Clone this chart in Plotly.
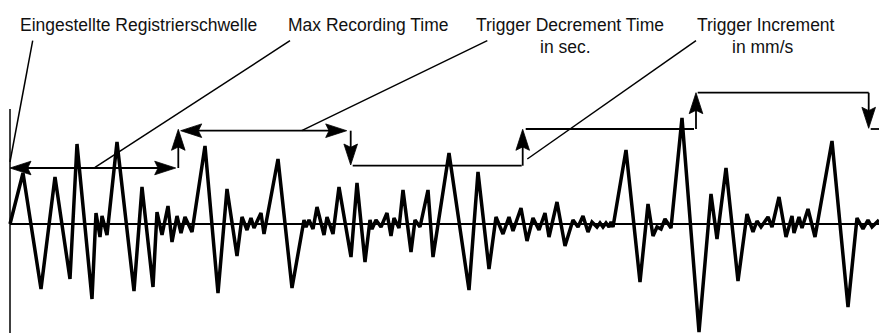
import plotly.graph_objects as go
import numpy as np

# ---------------- data ----------------
# waveform vertices (time units, amplitude units)
time = [0, 13, 31, 45, 60, 67, 82, 86, 90, 92, 97, 107, 124, 132, 143, 147, 152, 158, 162, 167,
        171, 175, 182, 195, 208, 217, 227, 232, 237, 241, 244, 251, 254, 268, 282, 294, 296, 299,
        303, 307, 314, 317, 323, 329, 341, 347, 355, 360, 362, 366, 371, 377, 381, 384, 389, 393,
        401, 405, 410, 418, 423, 439, 459, 468, 479, 486, 493, 499, 503, 511, 517, 523, 529, 535,
        539, 547, 555, 563, 568, 573, 578, 582, 587, 590, 593, 596, 599, 601, 603, 616, 630, 638,
        643, 647, 651, 655, 661, 672, 689, 701, 707, 716, 728, 737, 743, 747, 751, 758, 762, 769,
        776, 782, 784, 789, 792, 798, 805, 822, 838, 847, 853, 858, 862, 869]
amplitude = [0, 51, -65, 47, -55, 80, -75, 11, -13, 8, -11, 82, -67, 37, -63, 12, -11, 18, -18, 8,
             -9, 7, -8, 78, -69, 35, -32, 7, -6, 6, -4, 11, -10, 65, -64, 4, -3, 4,
             -5, 17, -11, 7, -10, 37, -33, 41, -38, 4, -5, 4, -3, 11, -12, 6, -4, 34,
             -28, 4, -3, 34, -33, 71, -66, 52, -45, 7, -10, 7, -7, 16, -17, 6, -6, 11,
             -13, 22, -22, 4, -3, 8, -8, 2, -3, 1, -3, 1, -3, 2, -3, 74, -58, 20,
             -12, -3, -5, 5, -4, 106, -108, 30, -15, 56, -57, 10, -8, 3, -3, 7, -3, 27,
             -13, 8, -9, 7, -4, 15, -13, 83, -83, 6, -5, 4, -3, 4]

# trigger level segments
seg_start = [0, 170.7, 342.7, 515.7, 687.7, 860.7]
seg_end = [165.7, 336.7, 511.7, 684, 858.7, 869]
seg_level = [56, 93.3, 58.3, 95, 131.3, 95]
seg_double = [True, True, False, False, False, False]
# step arrows between successive levels
step_x = [168.3, 340.7, 512.7, 686, 858.7]
step_from = [56, 93.3, 58.3, 95, 131.3]
step_to = [94.7, 59, 94.7, 131.3, 95.7]

# labels and leader lines
labels = ["Eingestellte Registrierschwelle", "Max Recording Time", "Trigger Decrement Time",
          "in sec.", "Trigger Increment", "in mm/s"]
label_x = [128.7, 357.7, 559.5, 555, 755.7, 753.3]
label_y = [199, 199, 199, 177, 199, 177]
leader_x0 = [22.7, 280, 477.3, 686]
leader_y0 = [183.3, 183.3, 183.3, 183.3]
leader_x1 = [0, 85, 291.7, 517.3]
leader_y1 = [62, 56.7, 93.3, 65]

axis_top = 115
X_RANGE = [-10, 869]
Y_RANGE = [-109, 224]

# ---------------- figure ----------------
fig = go.Figure()
BLACK = "#000000"
HEAD_L, HEAD_W = 21, 6.8
shapes = []


def head(tx, ty, dx, dy):
    n = np.hypot(dx, dy)
    dx, dy = dx / n, dy / n
    px, py = -dy, dx
    bx, by = tx - HEAD_L * dx, ty - HEAD_L * dy
    nx, ny = tx - 0.84 * HEAD_L * dx, ty - 0.84 * HEAD_L * dy
    path = (f"M{tx},{ty} L{bx + HEAD_W * px},{by + HEAD_W * py} "
            f"L{nx},{ny} L{bx - HEAD_W * px},{by - HEAD_W * py} Z")
    shapes.append(dict(type="path", path=path, xref="x", yref="y",
                       fillcolor=BLACK, line=dict(color=BLACK, width=0.8)))


def line(xs, ys, w):
    fig.add_trace(go.Scatter(x=xs, y=ys, mode="lines", line=dict(color=BLACK, width=w),
                             hoverinfo="skip", showlegend=False))


# baseline and vertical axis
line([0, X_RANGE[1]], [0, 0], 1.8)
line([0, 0], [Y_RANGE[0], axis_top], 1.5)

# waveform
fig.add_trace(go.Scatter(x=time, y=amplitude, mode="lines",
                         line=dict(color=BLACK, width=3.5), hoverinfo="skip",
                         showlegend=False))

# trigger level segments
for s, e, lv, dbl in zip(seg_start, seg_end, seg_level, seg_double):
    if dbl:
        line([s + 0.5 * HEAD_L, e - 0.5 * HEAD_L], [lv, lv], 1.8)
        head(s, lv, -1, 0)
        head(e, lv, 1, 0)
    else:
        line([s, e], [lv, lv], 1.8)

for sx, f, t in zip(step_x, step_from, step_to):
    d = 1 if t > f else -1
    line([sx, sx], [f, t - d * 0.5 * HEAD_L], 1.8)
    head(sx, t, 0, d)

# leader lines
for x0, y0, x1, y1 in zip(leader_x0, leader_y0, leader_x1, leader_y1):
    line([x0, x1], [y0, y1], 1.5)

annotations = []
for txt, x, y in zip(labels, label_x, label_y):
    annotations.append(dict(text=txt, x=x, y=y, xref="x", yref="y", showarrow=False,
                            xanchor="center", yanchor="middle",
                            font=dict(family="Liberation Sans, Arial, sans-serif",
                                      size=17.5, color="#111111")))

fig.update_layout(
    width=879, height=333,
    margin=dict(l=0, r=0, t=0, b=0, pad=0),
    paper_bgcolor="white", plot_bgcolor="white",
    xaxis=dict(range=X_RANGE, visible=False, fixedrange=True),
    yaxis=dict(range=Y_RANGE, visible=False, fixedrange=True),
    shapes=shapes, annotations=annotations,
)

fig.write_html("out.html", config={"displayModeBar": False},
               post_script="document.body.style.margin='0';")
